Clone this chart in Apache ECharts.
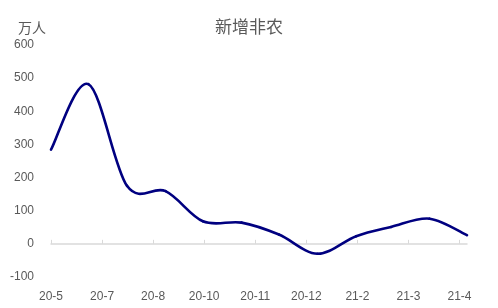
<!DOCTYPE html>
<html>
<head>
<meta charset="utf-8">
<script src="https://cdn.jsdelivr.net/npm/echarts@6/dist/echarts.min.js"></script>
<style>html,body{margin:0;padding:0;background:#fff}#c{width:498px;height:308px}</style>
</head>
<body>
<div id="c"></div>
<script>
// Month-end dates of each observation
var months = ['2020-05-31','2020-06-30','2020-07-31','2020-08-31','2020-09-30','2020-10-31','2020-11-30','2020-12-31','2021-01-31','2021-02-28','2021-03-31','2021-04-30'];
// 新增非农 (万人)
var payrolls = [284, 482, 175, 159, 68, 64, 28, -30, 23, 51, 76, 26];
// x-axis tick labels (shown every 41 days from the first date)
var tickLabels = ['20-5','20-7','20-8','20-10','20-11','20-12','21-2','21-3','21-4'];
var tickStepDays = 41;

var DAY = 86400000;
var t0 = Date.parse(months[0]);
function dayOf(s){ return Math.round((Date.parse(s) - t0) / DAY); }
var lastDay = dayOf(months[months.length-1]);
var seriesData = months.map(function(m,i){ return [dayOf(m), payrolls[i]]; });
var tickDays = tickLabels.map(function(_,i){ return i * tickStepDays; });

var FONT = "'Liberation Sans', 'Noto Sans CJK SC', sans-serif";
var GREY = '#595959';
var LINE = '#000080';

// Smoothed segment between consecutive points (Catmull-Rom style, like spreadsheet smoothing),
// every point converted to pixels through the chart's own axes.
function renderSegment(params, api){
  var i = params.dataIndex, n = seriesData.length;
  if (i >= n - 1) return null;
  var p = function(k){ k = Math.max(0, Math.min(n-1, k)); return api.coord(seriesData[k]); };
  var p0 = p(i-1), p1 = p(i), p2 = p(i+1), p3 = p(i+2);
  return {
    type:'bezierCurve',
    shape:{
      x1:p1[0], y1:p1[1], x2:p2[0], y2:p2[1],
      cpx1:p1[0] + (p2[0]-p0[0])/6, cpy1:p1[1] + (p2[1]-p0[1])/6,
      cpx2:p2[0] - (p3[0]-p1[0])/6, cpy2:p2[1] - (p3[1]-p1[1])/6
    },
    style:{stroke:LINE, lineWidth:2.6, fill:null, lineCap:'round', lineJoin:'round'},
    silent:true
  };
}

var chart = echarts.init(document.getElementById('c'), null, {renderer:'canvas'});
chart.setOption({
  animation: false,
  backgroundColor: '#fff',
  title: [
    {text:'新增非农', left:'center', top:15, textStyle:{fontFamily:FONT, fontSize:17, fontWeight:'normal', color:GREY}},
    {text:'万人', left:13, top:17, textStyle:{fontFamily:FONT, fontSize:14, fontWeight:'normal', color:GREY}}
  ],
  grid: {left:51, right:31, top:45, bottom:31, containLabel:false},
  xAxis: [
    {
      type:'value', min:0, max:lastDay,
      axisLine:{show:true, onZero:true, lineStyle:{color:'#d9d9d9', width:1.5}},
      axisTick:{show:true, inside:true, length:4, customValues:tickDays, lineStyle:{color:'#d9d9d9', width:1}},
      axisLabel:{show:false},
      splitLine:{show:false}
    },
    {
      type:'value', min:0, max:lastDay, position:'bottom',
      axisLine:{show:false, onZero:false},
      axisTick:{show:false},
      axisLabel:{show:true, margin:14, customValues:tickDays, fontFamily:FONT, fontSize:12, color:GREY,
        formatter:function(v){ var i = Math.round(v / tickStepDays); return tickLabels[i] || ''; }},
      splitLine:{show:false}
    }
  ],
  yAxis: {
    type:'value', min:-100, max:600, interval:100,
    axisLine:{show:false}, axisTick:{show:false}, splitLine:{show:false},
    axisLabel:{margin:17, fontFamily:FONT, fontSize:12, color:GREY}
  },
  series: [{
    name:'新增非农', type:'custom', xAxisIndex:0, yAxisIndex:0,
    data:seriesData, encode:{x:0, y:1}, renderItem:renderSegment, clip:false
  }]
});
</script>
</body>
</html>
